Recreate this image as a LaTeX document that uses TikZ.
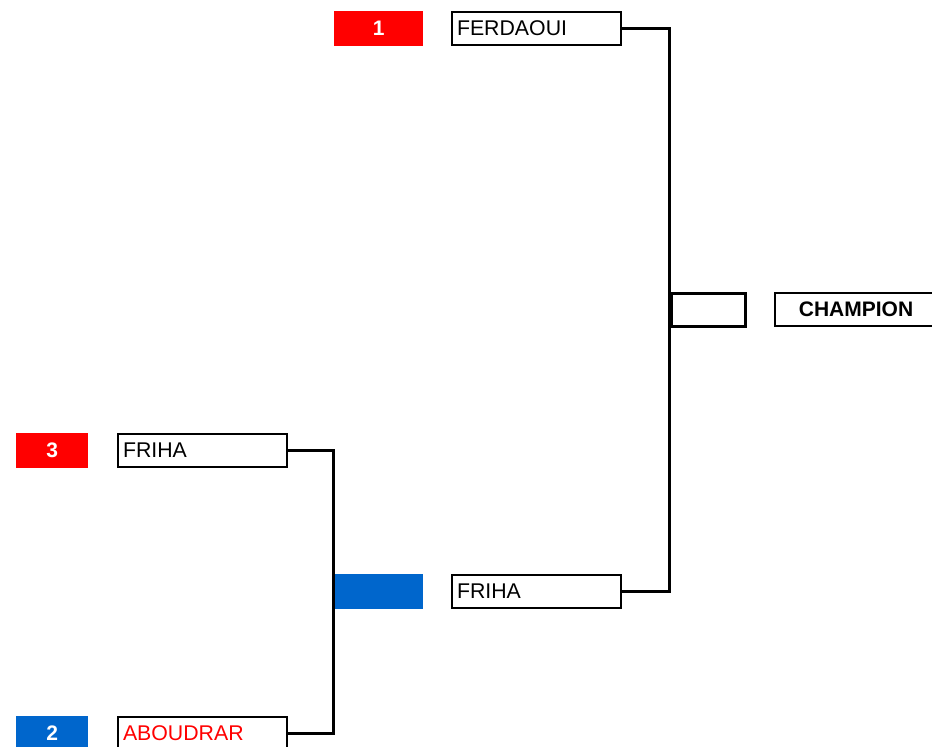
\documentclass[tikz,border=0pt]{standalone}
\usepackage{fontspec}
\setmainfont{Liberation Sans}
\definecolor{seedred}{HTML}{FF0000}
\definecolor{seedblue}{HTML}{0066CC}
\begin{document}
\begin{tikzpicture}[x=1pt,y=-1pt,
  namebox/.style={draw=black,line width=2pt,rectangle,minimum height=33pt,
    text width=159pt,inner xsep=5pt,align=left,anchor=west,
    font=\fontsize{21.3}{24}\selectfont},
  seedbox/.style={fill=#1,draw=none,rectangle,minimum height=35pt,anchor=west,
    text=white,font=\fontsize{21}{24}\selectfont\bfseries},
  link/.style={line width=3pt,line cap=rect}]
\useasboundingbox (0,0) rectangle (932,747);
% seeds
\node[seedbox=seedred,minimum width=89pt] (s1) at (334,28.5) {1};
\node[seedbox=seedred,minimum width=72pt] (s3) at (16,450.5) {3};
\node[seedbox=seedblue,minimum width=88pt] (sb) at (335,591.5) {};
\node[seedbox=seedblue,minimum width=72pt] (s2) at (16,733.5) {2};
% names
\node[namebox] (ferd) at (451,28) {FERDAOUI};
\node[namebox] (friha1) at (117,450.5) {FRIHA};
\node[namebox] (friha2) at (451,591.5) {FRIHA};
\node[namebox,text=seedred] (abou) at (117,733) {ABOUDRAR};
% final
\node[draw=black,line width=3pt,rectangle,minimum width=74pt,minimum height=33pt,anchor=west] (final) at (669.5,309.5) {};
\node[draw=black,line width=2pt,rectangle,minimum width=162pt,minimum height=33pt,anchor=west,
  font=\fontsize{21}{24}\selectfont\bfseries] (champ) at (774,309.5) {CHAMPION};
% connectors
\draw[link] (ferd.east) -- (ferd.east -| final.west) -- (friha2.east -| final.west) -- (friha2.east);
\draw[link] (friha1.east) -- ([xshift=-1.5pt]friha1.east -| sb.west) -- ([xshift=-1.5pt]abou.east -| sb.west) -- (abou.east);
\end{tikzpicture}
\end{document}
